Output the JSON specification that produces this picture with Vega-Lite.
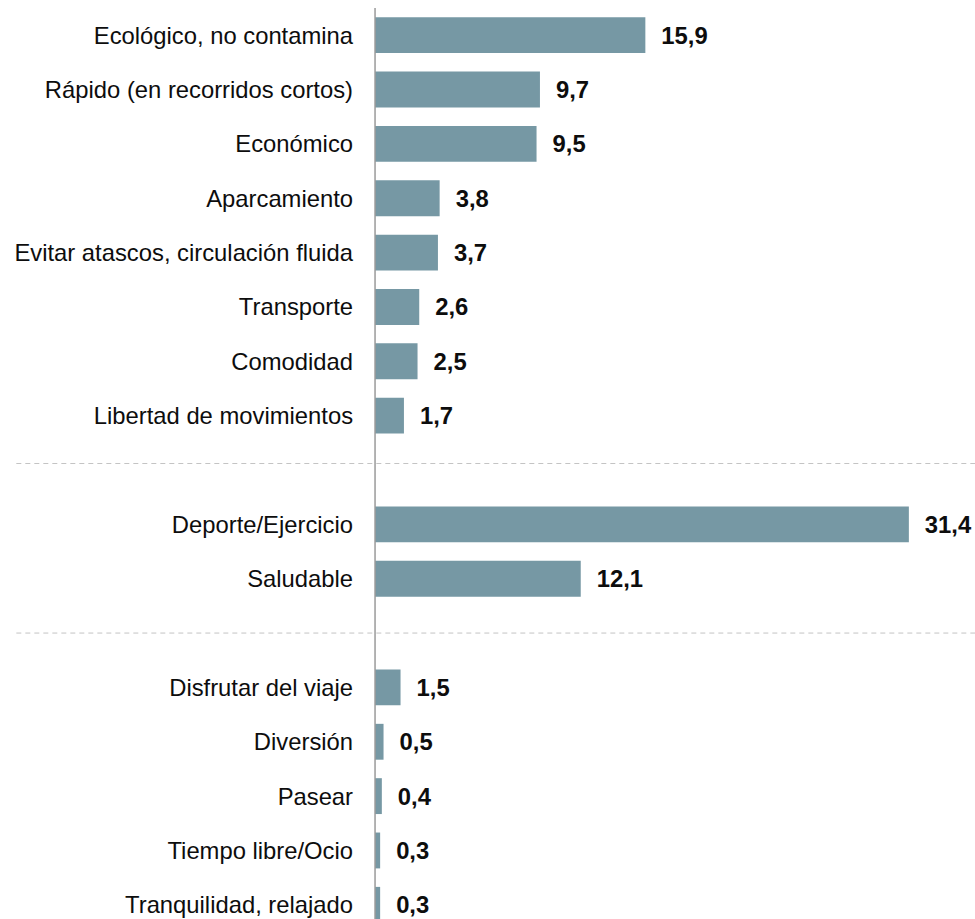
{
  "$schema": "https://vega.github.io/schema/vega-lite/v6.json",
  "width": 975,
  "height": 924,
  "autosize": {"type": "none"},
  "padding": {"top": 8, "left": 0, "right": 0, "bottom": 0},
  "background": "white",
  "config": {
    "view": {"stroke": null},
    "locale": {"number": {"decimal": ",", "thousands": ".", "grouping": [3], "currency": ["", " €"]}},
    "text": {"font": "Liberation Sans", "fontSize": 23.8, "color": "#0d0d0d"}
  },
  "datasets": {
    "bars": [
      {"categoria": "Ecológico, no contamina", "valor": 15.9},
      {"categoria": "Rápido (en recorridos cortos)", "valor": 9.7},
      {"categoria": "Económico", "valor": 9.5},
      {"categoria": "Aparcamiento", "valor": 3.8},
      {"categoria": "Evitar atascos, circulación fluida", "valor": 3.7},
      {"categoria": "Transporte", "valor": 2.6},
      {"categoria": "Comodidad", "valor": 2.5},
      {"categoria": "Libertad de movimientos", "valor": 1.7},
      {"categoria": "Deporte/Ejercicio", "valor": 31.4},
      {"categoria": "Saludable", "valor": 12.1},
      {"categoria": "Disfrutar del viaje", "valor": 1.5},
      {"categoria": "Diversión", "valor": 0.5},
      {"categoria": "Pasear", "valor": 0.4},
      {"categoria": "Tiempo libre/Ocio", "valor": 0.3},
      {"categoria": "Tranquilidad, relajado", "valor": 0.3}
    ]
  },
  "encoding": {
    "y": {
      "field": "categoria",
      "type": "nominal",
      "axis": null,
      "scale": {
        "domain": ["Ecológico, no contamina", "Rápido (en recorridos cortos)", "Económico", "Aparcamiento", "Evitar atascos, circulación fluida", "Transporte", "Comodidad", "Libertad de movimientos", "sep1", "Deporte/Ejercicio", "Saludable", "sep2", "Disfrutar del viaje", "Diversión", "Pasear", "Tiempo libre/Ocio", "Tranquilidad, relajado"],
        "paddingInner": 0.34,
        "paddingOuter": 0.17
      }
    }
  },
  "layer": [
    {
      "data": {"values": [{"categoria": "sep1"}]},
      "mark": {"type": "rule", "color": "#c4c4c4", "strokeWidth": 1, "strokeDash": [5, 4], "yOffset": -6.5},
      "encoding": {
        "x": {"datum": -21.1, "type": "quantitative", "scale": {"domain": [-22.06, 35.29], "nice": false, "zero": false}, "axis": null},
        "x2": {"datum": 35.29}
      }
    },
    {
      "data": {"values": [{"categoria": "sep2"}]},
      "mark": {"type": "rule", "color": "#c4c4c4", "strokeWidth": 1, "strokeDash": [5, 4]},
      "encoding": {
        "x": {"datum": -21.1, "type": "quantitative"},
        "x2": {"datum": 35.29}
      }
    },
    {
      "data": {"name": "bars"},
      "mark": {"type": "bar", "color": "#7698a4"},
      "encoding": {
        "x": {"field": "valor", "type": "quantitative"}
      }
    },
    {
      "data": {"values": [{}]},
      "mark": {"type": "rule", "color": "#9a9a9a", "strokeWidth": 1.5},
      "encoding": {
        "x": {"datum": 0, "type": "quantitative"},
        "y": null
      }
    },
    {
      "data": {"name": "bars"},
      "mark": {"type": "text", "align": "right", "baseline": "alphabetic", "dx": -22, "dy": 8.4},
      "encoding": {
        "x": {"datum": 0, "type": "quantitative"},
        "text": {"field": "categoria"}
      }
    },
    {
      "data": {"name": "bars"},
      "mark": {"type": "text", "align": "left", "baseline": "alphabetic", "dx": 16, "dy": 8.4, "fontWeight": "bold"},
      "encoding": {
        "x": {"field": "valor", "type": "quantitative"},
        "text": {"field": "valor", "type": "quantitative", "format": ".1f"}
      }
    }
  ]
}
